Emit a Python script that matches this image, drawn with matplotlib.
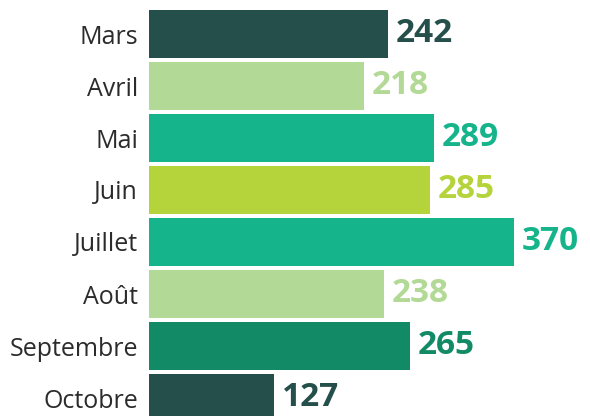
import matplotlib.pyplot as plt

months = ['Mars', 'Avril', 'Mai', 'Juin', 'Juillet', 'Août', 'Septembre', 'Octobre']
values = [242, 218, 289, 285, 370, 238, 265, 127]
colors = ['#244f4a', '#b2d995', '#15b48a', '#b5d33a', '#15b48a', '#b2d995', '#138a66', '#244f4a']

plt.rcParams['font.family'] = ['Open Sans', 'DejaVu Sans']

fig = plt.figure(figsize=(5.9, 4.16), dpi=100)
ax = fig.add_axes([149 / 590, 0, 441 / 590, 1])

pos = range(len(months))
ax.barh(pos, values, height=48 / 52, color=colors)
ax.set_xlim(0, 441 / 0.986)
ax.set_ylim(7 + 18 / 52, -34 / 52)

ax.set_yticks(list(pos))
ax.set_yticklabels(months, fontsize=18, color='#2b2b2b')
ax.tick_params(axis='y', length=0, pad=8)
ax.set_xticks([])
for s in ax.spines.values():
    s.set_visible(False)

for i, v in enumerate(values):
    ax.text(v + 8, i, str(v), va='center', ha='left', fontsize=24,
            fontweight='bold', color=colors[i])

fig.savefig('out.png', dpi=100)
